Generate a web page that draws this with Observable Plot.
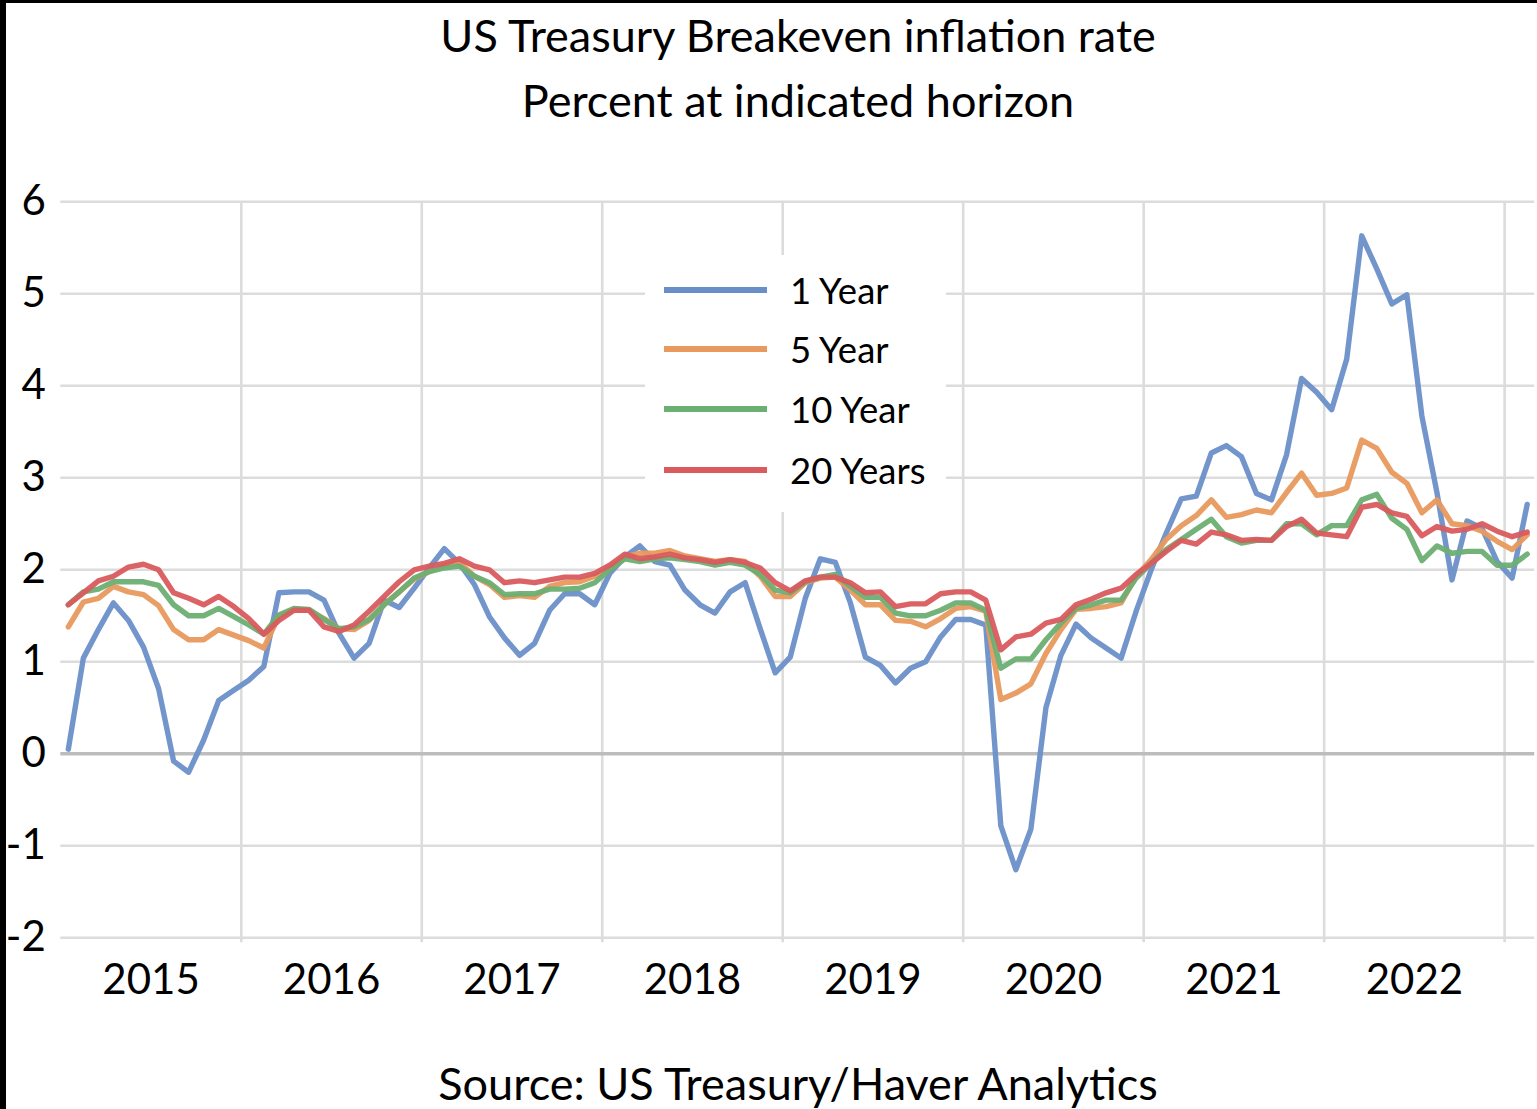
<!DOCTYPE html>
<html>
<head>
<meta charset="utf-8">
<script src="https://cdn.jsdelivr.net/npm/d3@7"></script>
<script src="https://cdn.jsdelivr.net/npm/@observablehq/plot@0.6"></script>
<style>
  html, body { margin: 0; padding: 0; background: #fff; }
  #wrap { position: relative; width: 1537px; height: 1109px; overflow: hidden; background: #fff; font-family: Lato, sans-serif; color: #000; }
  .bl { position: absolute; left: 0; top: 0; width: 6px; height: 1109px; background: #000; z-index: 5; }
  .bt { position: absolute; left: 0; top: 0; width: 1537px; height: 3px; background: #000; z-index: 5; }
  .txt { position: absolute; left: 298px; width: 1000px; text-align: center; font-size: 45px; line-height: 54px; white-space: nowrap; }
  #chart { position: absolute; left: 0; top: 150px; }
  #legend { position: absolute; left: 645px; top: 255px; width: 301px; height: 257px; background: #fff; }
  .lrow { position: absolute; left: 0; width: 301px; height: 40px; }
  .lline { position: absolute; left: 19px; top: 17.3px; width: 103px; height: 5.4px; }
  .ltext { position: absolute; left: 145px; top: 0; font-size: 36.5px; line-height: 40px; white-space: nowrap; }
</style>
</head>
<body>
<div id="wrap">
  <div class="bl"></div><div class="bt"></div>
  <div class="txt" id="t1" style="top:8px"></div>
  <div class="txt" id="t2" style="top:73px"></div>
  <div id="chart"></div>
  <div id="legend"></div>
  <div class="txt" id="cap" style="top:1056px"></div>
</div>
<script>
const titleText = "US Treasury Breakeven inflation rate";
const subtitleText = "Percent at indicated horizon";
const captionText = "Source: US Treasury/Haver Analytics";

const years = ["2015", "2016", "2017", "2018", "2019", "2020", "2021", "2022"];
const yTicks = [-2, -1, 0, 1, 2, 3, 4, 5, 6];
const seriesNames = ["1 Year", "5 Year", "10 Year", "20 Years"];
const seriesColors = ["#6a8fc8", "#e8995d", "#6baf72", "#d95b5e"];

// Monthly observations, Jan 2015 .. Feb 2023 (98 months)
const oneYear = [
  0.05, 1.04, 1.35, 1.64, 1.45, 1.16, 0.71, -0.08, -0.20, 0.15, 0.58, 0.69,
  0.80, 0.95, 1.75, 1.76, 1.76, 1.67, 1.31, 1.04, 1.20, 1.67, 1.59, 1.80,
  2.02, 2.23, 2.07, 1.84, 1.49, 1.26, 1.07, 1.20, 1.56, 1.74, 1.74, 1.62,
  1.96, 2.14, 2.26, 2.09, 2.05, 1.78, 1.62, 1.53, 1.76, 1.86, 1.36, 0.88,
  1.05, 1.69, 2.12, 2.08, 1.64, 1.05, 0.96, 0.77, 0.93, 1.00, 1.27, 1.46,
  1.46, 1.40, -0.78, -1.26, -0.82, 0.50, 1.07, 1.41, 1.26, 1.15, 1.04, 1.55,
  2.00, 2.40, 2.77, 2.80, 3.27, 3.35, 3.23, 2.83, 2.76, 3.25, 4.08, 3.93,
  3.74, 4.29, 5.63, 5.27, 4.89, 4.99, 3.67, 2.84, 1.89, 2.53, 2.45, 2.09,
  1.91, 2.71
];
const fiveYear = [
  1.38, 1.65, 1.69, 1.82, 1.76, 1.73, 1.61, 1.35, 1.24, 1.24, 1.35, 1.29,
  1.23, 1.15, 1.50, 1.56, 1.56, 1.47, 1.36, 1.35, 1.45, 1.62, 1.76, 1.90,
  1.98, 2.05, 2.08, 1.93, 1.84, 1.70, 1.72, 1.70, 1.82, 1.86, 1.87, 1.93,
  2.02, 2.14, 2.18, 2.18, 2.21, 2.15, 2.12, 2.09, 2.11, 2.09, 1.93, 1.71,
  1.71, 1.86, 1.91, 1.92, 1.78, 1.62, 1.62, 1.45, 1.44, 1.38, 1.47, 1.58,
  1.60, 1.55, 0.59, 0.66, 0.76, 1.09, 1.35, 1.57, 1.58, 1.60, 1.64, 1.93,
  2.11, 2.33, 2.48, 2.59, 2.76, 2.57, 2.60, 2.65, 2.62, 2.84, 3.05, 2.81,
  2.83, 2.89, 3.41, 3.32, 3.06, 2.94, 2.62, 2.76, 2.50, 2.48, 2.42, 2.31,
  2.22, 2.38
];
const tenYear = [
  1.62, 1.76, 1.79, 1.87, 1.87, 1.87, 1.83, 1.62, 1.50, 1.50, 1.58, 1.49,
  1.40, 1.30, 1.51, 1.58, 1.57, 1.46, 1.36, 1.38, 1.46, 1.62, 1.76, 1.91,
  1.98, 2.02, 2.04, 1.93, 1.86, 1.73, 1.74, 1.74, 1.79, 1.79, 1.80, 1.86,
  2.00, 2.12, 2.09, 2.12, 2.13, 2.11, 2.09, 2.05, 2.08, 2.05, 1.95, 1.78,
  1.75, 1.87, 1.92, 1.95, 1.82, 1.70, 1.70, 1.53, 1.50, 1.50, 1.56, 1.64,
  1.64, 1.56, 0.93, 1.03, 1.03, 1.24, 1.42, 1.58, 1.62, 1.67, 1.67, 1.91,
  2.07, 2.22, 2.33, 2.44, 2.55, 2.36, 2.29, 2.32, 2.32, 2.50, 2.50, 2.38,
  2.48, 2.48, 2.76, 2.82, 2.56, 2.44, 2.10, 2.26, 2.18, 2.20, 2.20, 2.05,
  2.05, 2.17
];
const twentyYears = [
  1.62, 1.75, 1.88, 1.93, 2.03, 2.06, 2.00, 1.75, 1.69, 1.62, 1.71, 1.60,
  1.47, 1.30, 1.45, 1.56, 1.56, 1.38, 1.33, 1.40, 1.55, 1.71, 1.87, 2.00,
  2.04, 2.07, 2.12, 2.04, 2.00, 1.86, 1.88, 1.86, 1.89, 1.92, 1.92, 1.96,
  2.05, 2.17, 2.12, 2.14, 2.17, 2.13, 2.11, 2.08, 2.11, 2.08, 2.02, 1.86,
  1.77, 1.88, 1.92, 1.92, 1.86, 1.75, 1.76, 1.60, 1.63, 1.63, 1.74, 1.76,
  1.76, 1.67, 1.13, 1.27, 1.30, 1.42, 1.46, 1.62, 1.68, 1.75, 1.80, 1.95,
  2.07, 2.20, 2.32, 2.28, 2.41, 2.38, 2.32, 2.33, 2.32, 2.47, 2.55, 2.40,
  2.38, 2.36, 2.68, 2.71, 2.62, 2.58, 2.37, 2.47, 2.42, 2.44, 2.50, 2.42,
  2.36, 2.41
];

const seriesValues = [oneYear, fiveYear, tenYear, twentyYears];
const months = d3.utcMonth.range(new Date(Date.UTC(2015, 0, 1)), new Date(Date.UTC(2023, 2, 1)));

// category positions: one slot per month
const yearBounds = months.map((m, i) => (m.getUTCMonth() === 0 && i > 0) ? i - 0.5 : null).filter(d => d !== null);
const yearCenters = years.map(y => months.findIndex(m => m.getUTCFullYear() === +y) + 5.5);

document.getElementById("t1").textContent = titleText;
document.getElementById("t2").textContent = subtitleText;
document.getElementById("cap").textContent = captionText;

const lineMarks = seriesValues.map((vals, k) =>
  Plot.line(vals.map((v, i) => ({i, v, s: seriesNames[k]})), {
    x: "i", y: "v", stroke: seriesColors[k], strokeWidth: 5.4,
    strokeLinejoin: "round", strokeLinecap: "round", strokeOpacity: 0.95
  })
);

const chart = Plot.plot({
  width: 1537,
  height: 900,
  marginLeft: 60.3,
  marginRight: 2.8,
  marginTop: 51.3,
  marginBottom: 112.7,
  x: {domain: [-0.5, months.length - 0.5], axis: null, label: null},
  y: {domain: [-2, 6], axis: null, label: null},
  style: {fontFamily: "Lato, sans-serif", color: "#000", background: "#fff", overflow: "visible"},
  marks: [
    Plot.ruleY(yTicks.filter(d => d !== 0), {stroke: "#dcdcdc", strokeWidth: 2.6}),
    Plot.ruleX(yearBounds, {stroke: "#dcdcdc", strokeWidth: 2.6, insetBottom: -5}),
    Plot.ruleY([0], {stroke: "#bdbdbd", strokeWidth: 3.6}),
    Plot.axisY(yTicks, {tickSize: 0, tickPadding: 15, fontSize: 42, label: null, tickFormat: d => String(d)}),
    Plot.axisX(yearCenters, {tickSize: 0, tickPadding: 26, fontSize: 42, label: null,
      tickFormat: d => years[Math.round((d - 5.5) / 12)]}),
    ...lineMarks
  ]
});
document.getElementById("chart").appendChild(chart);

// legend
const legend = document.getElementById("legend");
const rowCenters = [35, 94, 154, 215];
seriesNames.forEach((name, k) => {
  const row = document.createElement("div");
  row.className = "lrow";
  row.style.top = (rowCenters[k] - 20) + "px";
  const ln = document.createElement("div");
  ln.className = "lline";
  ln.style.background = seriesColors[k];
  const tx = document.createElement("div");
  tx.className = "ltext";
  tx.textContent = name;
  row.appendChild(ln); row.appendChild(tx);
  legend.appendChild(row);
});
</script>
</body>
</html>
